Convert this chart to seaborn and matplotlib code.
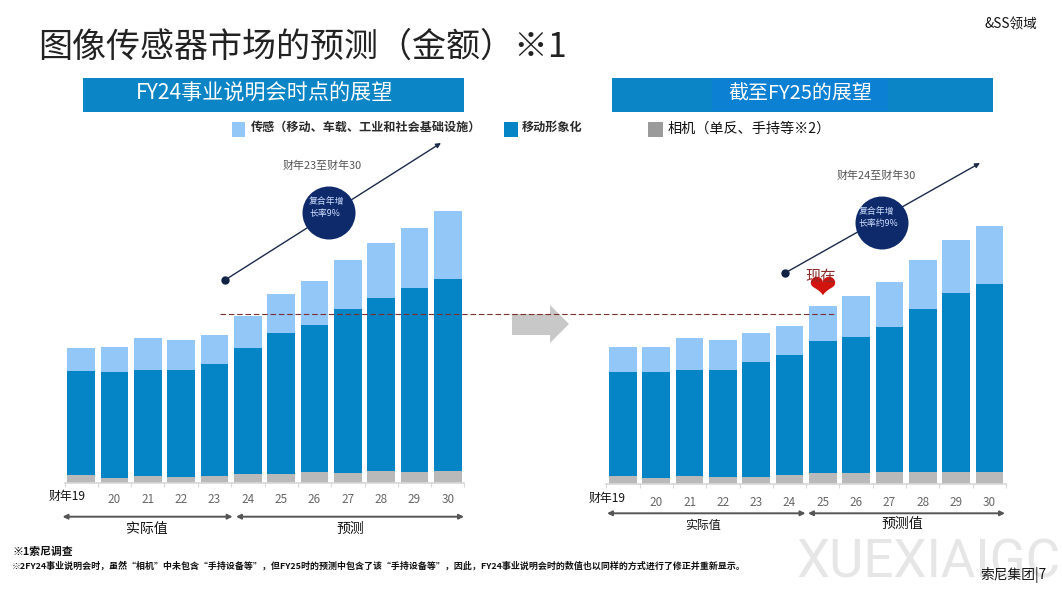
import numpy as np
import matplotlib
matplotlib.use("Agg")
import matplotlib.pyplot as plt
from matplotlib.patches import Circle, Polygon, Rectangle
import seaborn as sns

W, H = 1062, 595

# bar segments (relative units, 1 = 1 px of height)
fiscal_years = ["19", "20", "21", "22", "23", "24", "25", "26", "27", "28", "29", "30"]

camera_fy24 = [7.7, 5.3, 7.3, 6.3, 7.3, 9.3, 9.0, 11.0, 10.3, 11.7, 11.0, 12.0]
mobile_fy24 = [103.9, 105.3, 106.0, 106.7, 112.0, 125.7, 141.0, 147.3, 163.7, 173.6, 184.3, 192.3]
sensing_fy24 = [23.7, 25.4, 32.0, 29.6, 29.0, 32.0, 39.0, 44.0, 48.6, 54.7, 59.7, 67.7]

camera_fy25 = [7.7, 5.7, 7.7, 6.7, 7.0, 9.0, 10.7, 10.7, 11.7, 11.7, 11.7, 11.7]
mobile_fy25 = [104.3, 106.0, 106.7, 107.0, 114.7, 119.7, 132.0, 136.7, 145.3, 163.7, 179.3, 188.7]
sensing_fy25 = [24.7, 25.0, 32.0, 30.0, 29.0, 29.3, 35.0, 40.3, 45.4, 48.6, 53.4, 58.0]

BLUE = "#0585C5"
LIGHT = "#93C7F8"
GREY = "#B9B9B9"
NAVY = "#0F2A6B"
CJK = ["Noto Sans CJK SC", "DejaVu Sans"]

sns.set_theme(style="white")
plt.rcParams["font.family"] = CJK

fig = plt.figure(figsize=(W / 100, H / 100), dpi=100, facecolor="white")


def add_panel(x0, x1, baseline, pad, camera, mobile, sensing):
    """One stacked bar panel, placed in pixels. Tallest stack first, the rest over it."""
    top = 290
    ax = fig.add_axes([x0 / W, 1 - baseline / H, (x1 - x0) / W, top / H])
    ax.patch.set_alpha(0)
    camera, mobile, sensing = map(np.array, (camera, mobile, sensing))
    stacks = [(camera + mobile + sensing, LIGHT), (camera + mobile, BLUE), (camera, GREY)]
    for vals, color in stacks:
        sns.barplot(x=fiscal_years, y=vals, color=color, saturation=1, width=0.83,
                    linewidth=0, ax=ax)
    ax.set_xlim(-0.5, 11.5)
    ax.set_ylim(0, top)
    ax.set_yticks([])
    sns.despine(ax=ax, left=True)
    ax.spines["bottom"].set_color("#D8D8D8")
    ax.set_xticks(range(12), [""] + fiscal_years[1:])
    ax.set_xticks(np.arange(-0.5, 12), minor=True)
    ax.tick_params(axis="x", which="major", length=0, pad=pad, labelsize=8.4, labelcolor="#666666")
    ax.tick_params(axis="x", which="minor", bottom=True, length=3, width=0.8, color="#D8D8D8")
    return ax


add_panel(64.5, 464.5, 483, 7.5, camera_fy24, mobile_fy24, sensing_fy24)
add_panel(606.3, 1006, 484, 8.5, camera_fy25, mobile_fy25, sensing_fy25)

# overlay in pixel coordinates for the slide furniture
ov = fig.add_axes([0, 0, 1, 1], zorder=5)
ov.set_xlim(0, W)
ov.set_ylim(H, 0)
ov.axis("off")
ov.patch.set_alpha(0)


def label(x, y, s, size, color="#111111", ha="center", weight="normal", zorder=4):
    ov.text(x, y, s, fontsize=size, color=color, ha=ha, va="center", fontweight=weight, zorder=zorder)


def square(x0, x1, color):
    ov.add_patch(Rectangle((x0, 121.5), x1 - x0, 15, color=color, lw=0))


def arrow(x0, y0, x1, y1, style="-|>", color="#1B2A4A", lw=1.0, scale=7):
    ov.annotate("", xy=(x1, y1), xytext=(x0, y0),
                arrowprops=dict(arrowstyle=style, color=color, lw=lw, shrinkA=0, shrinkB=0,
                                mutation_scale=scale))


label(38, 47, "图像传感器市场的预测（金额）※1", 24.5, "#222222", ha="left")
label(1037, 25, "&SS领域", 9.8, ha="right")

# banners
ov.add_patch(Rectangle((82.8, 78), 381.2, 34.3, color="#0B85C6", lw=0))
ov.add_patch(Rectangle((611.5, 78), 381.3, 34.3, color="#0B85C6", lw=0))
ov.add_patch(Rectangle((712, 79), 176, 32, color="#0C80D2", lw=0))
label(265, 94, "FY24事业说明会时点的展望", 15.2, "white")
label(800, 94, "截至FY25的展望", 14.4, "white")

# legend
square(232, 245, LIGHT)
label(251, 127, "传感（移动、车载、工业和社会基础设施）", 8.7, "#2A2A2A", ha="left", weight="bold")
square(504, 518, BLUE)
label(522, 127, "移动形象化", 8.7, "#2A2A2A", ha="left", weight="bold")
square(647.6, 662.5, "#9A9A9A")
label(668, 129, "相机（单反、手持等※2）", 10.2, ha="left")

# growth arrows
for (x0, y0, x1, y1, cx, cy, tx, line1, line2, span, sx, sy) in [
    (225, 280, 441, 143, 329, 213, 309, "复合年增", "长率9%", "财年23至财年30", 322, 166),
    (785, 273, 980, 163, 882, 223, 858.6, "复合年增", "长率约9%", "财年24至财年30", 876, 176),
]:
    arrow(x0, y0, x1, y1)
    ov.plot([x0], [y0], "o", color="#0E2144", ms=5)
    ov.add_patch(Circle((cx, cy), 26.5, color=NAVY, lw=0, zorder=3))
    ov.text(tx, cy - 11.5, line1, fontsize=6.4, color="#CFE0FF", va="center", zorder=4)
    ov.text(tx, cy + 0.7, line2, fontsize=6.4, color="#CFE0FF", va="center", zorder=4)
    label(sx, sy, span, 7.9, "#555555")

# reference line, big arrow, marker for the current year
ov.plot([220, 836], [314.3, 314.3], color="#7A3030", lw=0.8, ls=(0, (5, 2.5)))
ov.add_patch(Polygon([(512, 314), (550, 314), (550, 305), (569, 324), (550, 343), (550, 335), (512, 335)],
                     color="#C8C8C8", lw=0))
ov.text(822, 288, "❤", fontsize=24, color="#D2140F", ha="center", va="center",
        family="DejaVu Sans", zorder=3)
label(821, 276, "现在", 11, "#8E2A2A", zorder=5)

# axis captions
label(66.6, 496, "财年19", 8.6)
label(607, 498, "财年19", 8.6)
arrow_style = dict(style="<|-|>", color="#555555", lw=1.4, scale=7)
arrow(62.5, 516.7, 232.6, 516.7, **arrow_style)
arrow(236, 516.7, 464, 516.7, **arrow_style)
arrow(607, 513.3, 805.5, 513.3, **arrow_style)
arrow(808, 513.3, 1005, 513.3, **arrow_style)
label(147, 529, "实际值", 10)
label(350, 529, "预测", 10)
label(703, 525, "实际值", 8.6)
label(902, 524, "预测值", 10)

# footnotes
label(12, 551.5, "※1索尼调查", 7.8, ha="left", weight="bold")
label(12, 565.5, "※2FY24事业说明会时，虽然“相机”中未包含“手持设备等”，但FY25时的预测中包含了该“手持设备等”，"
                 "因此，FY24事业说明会时的数值也以同样的方式进行了修正并重新显示。", 6.44, ha="left", weight="bold")

# watermark, cut off by the slide edge in the source too
ov.text(797, 563, "XUEXIAIGC", fontsize=38, color="#E6E6E6", ha="left", va="center",
        family="Roboto", zorder=0)
label(1046, 575, "索尼集团|7", 9.9, ha="right")

fig.savefig("out.png", dpi=100, facecolor="white")
